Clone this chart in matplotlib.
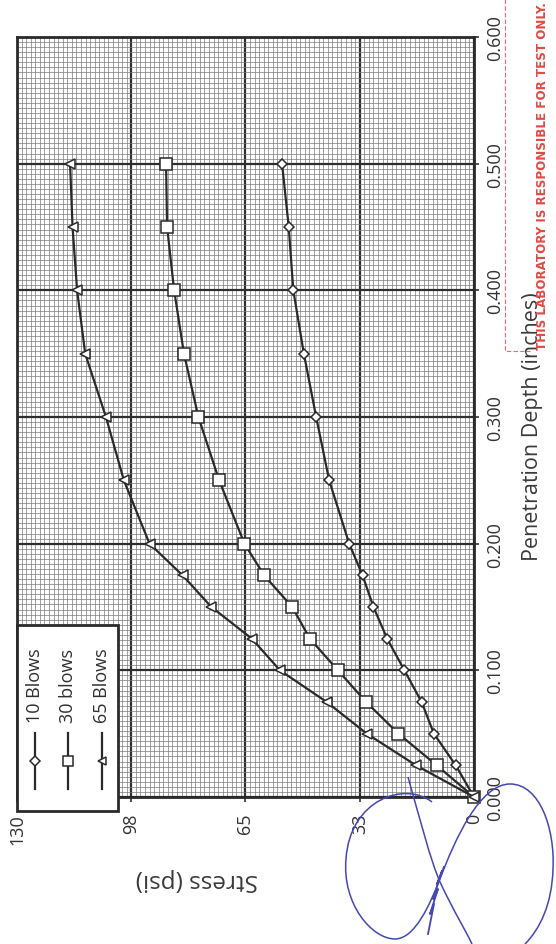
import matplotlib
matplotlib.use("Agg")
import matplotlib.pyplot as plt
from matplotlib.ticker import MultipleLocator, FixedLocator
from matplotlib.path import Path
from matplotlib.patches import PathPatch, Rectangle
from matplotlib.lines import Line2D

plt.rcParams['font.family'] = ['Open Sans', 'DejaVu Sans']

# CBR penetration test data
depth = [0.0, 0.025, 0.05, 0.075, 0.1, 0.125, 0.15, 0.175, 0.2,
         0.25, 0.3, 0.35, 0.4, 0.45, 0.5]
blows10 = [0, 5.2, 11.4, 14.9, 19.8, 24.7, 28.6, 31.7, 35.5,
           41.2, 44.9, 48.4, 51.4, 52.7, 54.6]
blows30 = [0, 10.6, 21.5, 30.7, 38.7, 46.7, 51.7, 59.7, 65.3,
           72.5, 78.4, 82.5, 85.3, 87.3, 87.6]
blows65 = [0, 16.5, 30.5, 41.9, 55.2, 63.2, 74.7, 82.9, 92.3,
           99.6, 104.7, 110.6, 112.9, 114.2, 114.9]
series_names = ["10 Blows", "30 blows", "65 Blows"]

stress_ticks = [0, 32.5, 65, 97.5, 130]
stress_tick_labels = ["0", "33", "65", "98", "130"]
depth_ticks = [0.0, 0.1, 0.2, 0.3, 0.4, 0.5, 0.6]
depth_tick_labels = ["0.000", "0.100", "0.200", "0.300", "0.400", "0.500", "0.600"]

W, H, DPI = 556, 945, 100
fig = plt.figure(figsize=(W / DPI, H / DPI), dpi=DPI)
fig.patch.set_facecolor('white')

# plot area in pixel units (page is turned sideways)
L, R, T, B = 17, 474, 38, 798
ax = fig.add_axes([L / W, 1 - B / H, (R - L) / W, (B - T) / H])
ax.set_xlim(130, 0)
ax.set_ylim(0, 0.6)

ax.xaxis.set_major_locator(FixedLocator(stress_ticks))
ax.set_xticklabels(stress_tick_labels, rotation=90)
ax.xaxis.set_minor_locator(MultipleLocator(32.5 / 25))
ax.yaxis.set_major_locator(FixedLocator(depth_ticks))
ax.yaxis.tick_right()
ax.set_yticklabels(depth_tick_labels, rotation=90, va='center')
ax.yaxis.set_minor_locator(MultipleLocator(0.1 / 25))

ax.set_axisbelow(True)
ax.grid(which='minor', color='#7a7a7a', lw=0.5)
ax.grid(which='major', color='#2e2e2e', lw=1.6)
ax.tick_params(which='minor', length=0)
ax.tick_params(which='major', length=3.5, width=1.2, color='#333333',
               labelsize=13, labelcolor='#333333')
ax.tick_params(axis='x', pad=8)
ax.tick_params(axis='y', pad=5)
for s in ax.spines.values():
    s.set_linewidth(2.0)
    s.set_color('#2a2a2a')

ax.set_ylabel("Penetration Depth (inches)", rotation=90, fontsize=15.5,
              color='#3a3a3a', ha='center', va='center')
ax.yaxis.set_label_position('right')
ax.yaxis.set_label_coords((522 - L) / (R - L), (B - 427) / (B - T))
ax.set_xlabel("Stress (psi)", rotation=180, fontsize=17.5, color='#3a3a3a',
              ha='center', va='center')
ax.xaxis.set_label_coords((197 - L) / (R - L), (B - 880) / (B - T))

styles = [('D', 5.5), ('s', 8), ('<', 7.5)]
for vals, (mk, ms) in zip([blows10, blows30, blows65], styles):
    ax.plot(vals, depth, color='#2a2a2a', lw=1.6, marker=mk, ms=ms,
            mfc='white', mec='#2a2a2a', mew=1.1, clip_on=False, zorder=3)

# overlay in pixel coordinates for the legend box and page marks
ov = fig.add_axes([0, 0, 1, 1], zorder=5)
ov.set_xlim(0, W)
ov.set_ylim(H, 0)
ov.axis('off')
ov.patch.set_alpha(0)

ov.add_patch(Rectangle((17, 626), 101, 186, facecolor='white',
                       edgecolor='#2a2a2a', lw=2.0))
legend_styles = [('D', 5), ('s', 7), ('<', 6)]
for xi, name, (mk, ms) in zip([35, 68, 102], series_names, legend_styles):
    ov.add_line(Line2D([xi, xi], [790, 734], color='#2a2a2a', lw=1.6))
    ov.add_line(Line2D([xi], [762], marker=mk, ms=ms,
                       mfc='white', mec='#2a2a2a', mew=1.1, ls='none'))
    ov.text(xi, 686, name, rotation=90, ha='center', va='center',
            fontsize=13, color='#2f2f2f')

# laboratory stamp
red = '#e04a44'
ov.text(542, 350, "THIS LABORATORY IS RESPONSIBLE FOR TEST ONLY.",
        rotation=90, rotation_mode='anchor', ha='left', va='center',
        fontsize=9.5, fontweight='bold', fontstretch='condensed', color=red,
        family='DejaVu Sans')
ov.add_line(Line2D([505, 505, 530], [0, 352, 352], color=red, lw=0.8,
                   ls=(0, (4, 2)), alpha=0.8))

# signature
blue = '#4348b4'
sig = Path([(432, 803),
            (405, 782), (350, 800), (346, 860),
            (342, 905), (372, 940), (395, 940),
            (415, 940), (430, 905), (440, 880),
            (455, 840), (480, 785), (510, 785),
            (540, 785), (555, 830), (553, 870),
            (552, 905), (540, 930), (525, 945)],
           [Path.MOVETO] + [Path.CURVE4] * 18)
ov.add_patch(PathPatch(sig, facecolor='none', edgecolor=blue, lw=1.1))
stroke = Path([(408, 778), (420, 820), (430, 860), (440, 883),
               (455, 915), (465, 930), (472, 945)],
              [Path.MOVETO] + [Path.CURVE4] * 6)
ov.add_patch(PathPatch(stroke, facecolor='none', edgecolor=blue, lw=1.1))
ov.add_line(Line2D([428, 434, 430, 438, 433, 442, 437, 444],
                   [935, 905, 915, 890, 900, 872, 885, 868],
                   color=blue, lw=1.3))

fig.savefig("out.png", dpi=DPI)
